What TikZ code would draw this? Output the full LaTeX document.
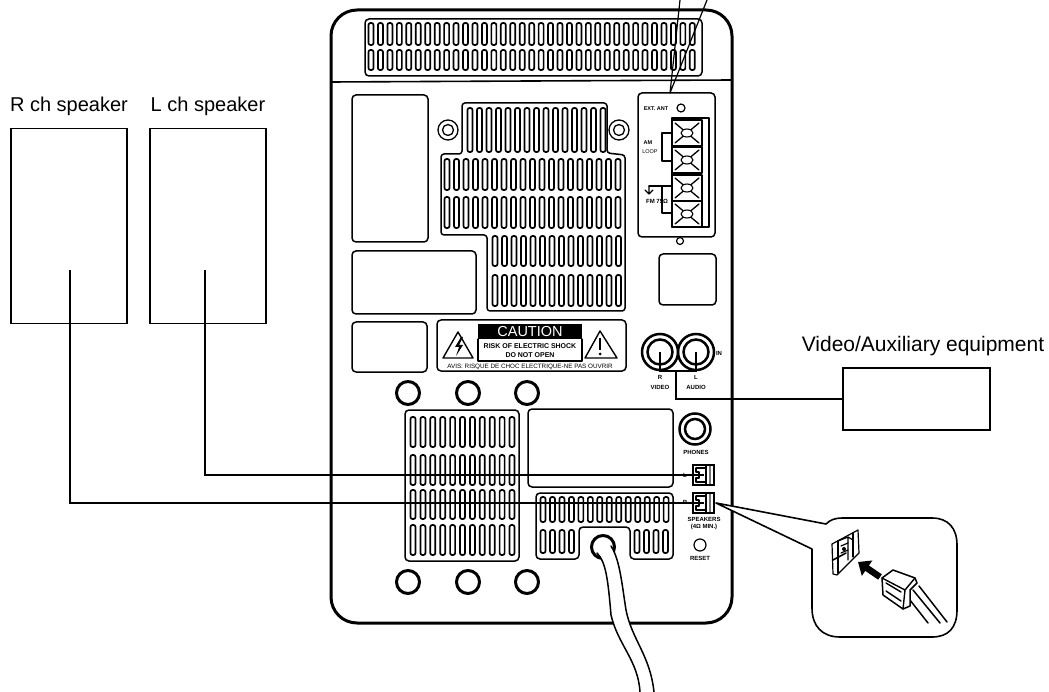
\documentclass[tikz,border=0pt]{standalone}
\usepackage{fontspec}
\setmainfont{Liberation Sans}
\usetikzlibrary{arrows.meta}
\newcommand{\slotrow}[6]{% x0 dx n y0 y1 w
  \foreach \i in {1,...,#3}{
    \pgfmathsetmacro{\xa}{#1+(\i-1)*#2-#6/2}
    \pgfmathsetmacro{\xb}{#1+(\i-1)*#2+#6/2}
    \draw[slotline] (\xa,#4) rectangle (\xb,#5);
  }}
\newcommand{\termsq}[2]{% x-left y-top ; square with X
  \draw[ln,line width=1.6pt] (#1,#2) rectangle ++(30,26);
  \draw[ln,line width=1.3pt] (#1+3,#2+3) -- (#1+27,#2+23) (#1+27,#2+3) -- (#1+3,#2+23);
  \draw[ln,fill=white,line width=1.1pt] (#1+15,#2+13) ellipse (6 and 4);
}
\newcommand{\jacksym}[1]{% y top of jack
  \draw[ln,line width=1.5pt] (706,#1) -- (706,#1+20);
  \draw[line width=2.2pt,draw=black!55] (710,#1+1) -- (710,#1+19);
  \draw[ln] (696,#1+3) -- (706,#1+3) (696,#1+17) -- (706,#1+17) (696,#1+3) -- (696,#1+7) -- (699,#1+7) -- (699,#1+13) -- (696,#1+13) -- (696,#1+17);
}
\tikzset{
  ln/.style={draw=black,line width=1.2pt,line cap=round,line join=round},
  heavy/.style={ln,line width=3pt},
  plate/.style={ln,line width=1.5pt,rounded corners=4pt},
  slotline/.style={draw=black,line width=1.7pt,rounded corners=2pt,fill=white},
  wire/.style={draw=black,line width=1.2pt},
  spkbox/.style={draw=black,line width=1.4pt,rectangle,inner sep=0pt,minimum width=116pt,minimum height=195pt},
  lab/.style={inner sep=0pt,text=black},
  tiny/.style={font=\fontsize{6}{7}\selectfont\bfseries,inner sep=0pt,text=black},
  hole/.style={draw=black,line width=3pt,circle,inner sep=0pt,minimum size=23pt},
  jackbox/.style={draw=black,line width=1.5pt,rectangle,inner sep=0pt,minimum width=21pt,minimum height=20pt},
}
\begin{document}
\begin{tikzpicture}[x=1pt,y=-1pt]
\useasboundingbox (0,0) rectangle (1049,692);
% chassis
\draw[heavy,rounded corners=26pt] (331,10) rectangle (732,623);
\draw[ln,line width=1.6pt] (331,82) -- (732,80);
% top grill
\draw[plate] (365,19) rectangle (702,76);
\slotrow{371}{9.45}{35}{23}{45}{5}
\slotrow{371}{9.45}{35}{50}{70}{5}
% callout to antenna panel
\coordinate (calloutA) at (680,0);
\coordinate (calloutB) at (707,0);
\coordinate (calloutT) at (670,93);
\draw[ln] (calloutA) -- (calloutT) -- (calloutB);
% left panels
\draw[plate] (352,95) rectangle (428,242);
\draw[plate] (352,251) rectangle (476,314);
\draw[plate] (352,322) rectangle (427,372);
% center grill
\draw[plate,rounded corners=3pt] (462,154) -- (462,103) -- (607,103) -- (607,153) -- (625,155) -- (625,311) -- (487,311) -- (487,235) -- (441,235) -- (441,154) -- cycle;
\slotrow{470}{9.5}{15}{108}{152}{5}
\slotrow{447}{9.5}{19}{159}{190}{5}
\slotrow{447}{9.5}{19}{197}{228}{5}
\slotrow{495}{9.5}{14}{236}{266}{5}
\slotrow{495}{9.5}{14}{275}{306}{5}
\foreach \x in {448,619}{
  \draw[ln,line width=1.3pt] (\x,130) circle (10);
  \draw[ln,line width=1.3pt] (\x,130) circle (5.5);
}
% antenna panel
\draw[plate] (638,93) rectangle (715,237);
\node[tiny,font=\fontsize{5.5}{6}\selectfont\bfseries] (extant) at (656,109) {EXT. ANT};
\draw[ln] (681,108) circle (4);
\draw[ln] (672,118) rectangle (709,227);
\termsq{672}{120}
\termsq{672}{147}
\termsq{672}{175}
\termsq{672}{201}
\draw[ln] (672,133) -- (662,133) -- (662,161) -- (672,161);
\node[tiny,font=\fontsize{5.5}{6}\selectfont\bfseries] (amlbl) at (648,143) {AM};
\node[tiny,font=\fontsize{5.5}{6}\selectfont] (looplbl) at (650,152) {LOOP};
\draw[ln] (649,186) -- (672,186);
\draw[ln] (649,186) -- (649,194) (645,190) -- (649,194) -- (653,190);
\node[tiny] (fmlbl) at (657,201) {FM 75Ω};
\draw[ln] (662,186) -- (662,213) -- (672,213);
\draw[ln] (680,241) circle (3.5);
\draw[plate] (659,254) rectangle (716,305);
% caution label
\draw[plate] (437,320) rectangle (626,371);
\node[fill=black,text=white,inner sep=0pt,minimum width=104pt,minimum height=15pt,font=\fontsize{14.5}{15}\selectfont] (caut) at (530,332) {CAUTION};
\draw[ln] (478,339) -- (478,361) -- (582,361) -- (582,339);
\node[tiny,font=\fontsize{7}{8}\selectfont\bfseries] (risk) at (530,346) {RISK OF ELECTRIC SHOCK};
\node[tiny,font=\fontsize{7}{8}\selectfont\bfseries] (dono) at (530,355) {DO NOT OPEN};
\node[tiny,font=\fontsize{6.3}{7}\selectfont] (avis) at (530,367) {AVIS: RISQUE DE CHOC ELECTRIQUE-NE PAS OUVRIR};
\draw[ln,line width=1.4pt] (458,332) -- (473,358) -- (443,358) -- cycle;
\draw[ln,line width=1.4pt] (600,331) -- (617,358) -- (585,358) -- cycle;
\fill (461,337) -- (455,347) -- (459,347) -- (456,356) -- (463,345) -- (459,345) -- (463,337) -- cycle;
\draw[line width=2pt] (600,338) -- (600,350);
\fill (600,354) circle (1.5);
% RCA
\node[draw=black,line width=2.5pt,circle,inner sep=0pt,minimum size=36pt] (rcaR) at (660,352) {};
\node[draw=black,line width=2.5pt,circle,inner sep=0pt,minimum size=36pt] (rcaL) at (696,352) {};
\node[draw=black,line width=2.5pt,circle,inner sep=0pt,minimum size=25pt] (rcaRi) at (660,352) {};
\node[draw=black,line width=2.5pt,circle,inner sep=0pt,minimum size=25pt] (rcaLi) at (696,352) {};
\coordinate (busR) at (660,371);
\coordinate (busL) at (696,371);
\coordinate (busD) at (676,371);
\draw[wire] (rcaR.center) -- (busR) -- (busL) -- (rcaL.center);
\node[tiny] (rl) at (660,377) {R};
\node[tiny] (vl) at (660,387) {VIDEO};
\node[tiny] (ll) at (696,377) {L};
\node[tiny] (al) at (696,387) {AUDIO};
\node[tiny] (inl) at (719,353) {IN};
% video box
\node[draw=black,line width=1.4pt,rectangle,inner sep=0pt,minimum width=147pt,minimum height=62pt] (video) at (916.5,399) {};
\node[lab,font=\fontsize{21}{24}\selectfont] (videolab) at (923,346) {Video/Auxiliary equipment};
\draw[wire] (busD) |- (video.west);
% round holes
\foreach \x/\n in {408/a,468/b,527/c}{
  \node[hole] (top\n) at (\x,393) {};
  \node[hole] (bot\n) at (\x,582) {};
}
% lower left grill
\draw[plate] (405,410) rectangle (519,561);
\slotrow{413}{9.9}{11}{417}{447}{5}
\slotrow{413}{9.9}{11}{455}{485}{5}
\slotrow{413}{9.9}{11}{490}{519}{5}
\slotrow{413}{9.9}{11}{525}{555}{5}
% center lower rect
\draw[plate] (528,409) rectangle (673,487);
\node[draw=black,line width=2.5pt,circle,inner sep=0pt,minimum size=31pt] (ph1) at (695,429) {};
\node[draw=black,line width=2.5pt,circle,inner sep=0pt,minimum size=20pt] (ph2) at (695,429) {};
\node[tiny] (phl) at (696,452) {PHONES};
% lower grill
\draw[plate] (536,493) -- (673,493) -- (673,559) -- (630,559) -- (630,527) -- (579,527) -- (579,559) -- (536,559) -- cycle;
\slotrow{543}{9.47}{14}{497}{522}{5}
\slotrow{543}{9.5}{4}{530}{553}{5}
\slotrow{637}{9.5}{4}{530}{553}{5}
% jacks
\node[jackbox] (jackL) at (703.5,475) {};
\node[jackbox] (jackR) at (703.5,503) {};
\jacksym{465}
\jacksym{493}
\node[tiny] (jl) at (685,475) {L};
\node[tiny] (jr) at (685,502) {R};
\node[tiny] (spk) at (704,519) {SPEAKERS};
\node[tiny] (ohm) at (704,527) {(4Ω MIN.)};
\draw[ln] (700,545) circle (6);
\node[tiny] (rst) at (700,558) {RESET};
% speakers
\node[spkbox] (rbox) at (69,226) {};
\node[spkbox] (lbox) at (208,226) {};
\node[lab,font=\fontsize{20}{23}\selectfont] (rlab) at (69,106) {R ch speaker};
\node[lab,font=\fontsize{20}{23}\selectfont] (llab) at (208,106) {L ch speaker};
\coordinate (rstart) at (70,270);
\coordinate (lstart) at (205,270);
\draw[wire] (rstart) |- (jackR.center);
\draw[wire] (lstart) |- (jackL.center);
% cable
\draw[ln,line width=3pt] (603,547) circle (11.5);
\path[fill=white] (597,553) .. controls (606,562) and (608,580) .. (611,615) .. controls (618,645) and (638,660) .. (640,692) -- (654,692) .. controls (650,655) and (632,640) .. (626,610) .. controls (622,585) and (620,560) .. (611,547) -- cycle;
\draw[ln,line width=1.5pt] (597,553) .. controls (606,562) and (608,580) .. (611,615) .. controls (618,645) and (638,660) .. (640,692);
\draw[ln,line width=1.5pt] (611,546) .. controls (620,560) and (622,585) .. (626,610) .. controls (632,640) and (650,655) .. (654,692);
% inset
\coordinate (insetTip) at (716,503);
\draw[ln,line width=1.6pt,fill=white] (insetTip) -- (826,524) .. controls (830,520) and (835,518) .. (842,518) -- (932,518) .. controls (948,518) and (957,528) .. (957,545) -- (957,610) .. controls (957,628) and (948,637) .. (932,637) -- (840,637) .. controls (822,637) and (812,626) .. (812,608) -- (812,549) -- cycle;
% socket
\draw[ln,fill=white] (832,544) -- (858,530) -- (859,553) -- (837,575) -- (833,574) -- cycle;
\draw[ln] (853,533) -- (853,557);
\draw[ln] (838,541) -- (848,537) -- (853,540) (848,537) -- (848,560);
\draw[ln,line width=1.6pt] (838,541) -- (838,573);
\draw[ln,line width=1.6pt] (833,560) -- (846,553);
\draw[ln] (841,546) -- (848,543) (841,553) -- (848,550);
\fill (844,549) circle (2);
% arrow
\coordinate (arrS) at (880,577);
\coordinate (arrE) at (858,562);
\draw[line width=6.5pt,-{Triangle[length=11pt,width=18pt]}] (arrS) -- (arrE);
% plug cables (behind plug)
\draw[ln,line width=1.5pt] (906,595) -- (928,623) (913,590) -- (940,623) (919,586) -- (947,622);
% plug
\draw[ln,line width=1.5pt,fill=white] (882,578) -- (893,570) -- (915,578) -- (917,583) -- (910,590) -- (910,606) -- (903,609) -- (883,595) -- cycle;
\draw[ln,line width=1.4pt] (882,578) -- (905,590) -- (915,578) (905,590) -- (903,609);
\draw[ln,line width=1.4pt] (886,583) -- (901,592) (886,591) -- (901,601);
\end{tikzpicture}
\end{document}
